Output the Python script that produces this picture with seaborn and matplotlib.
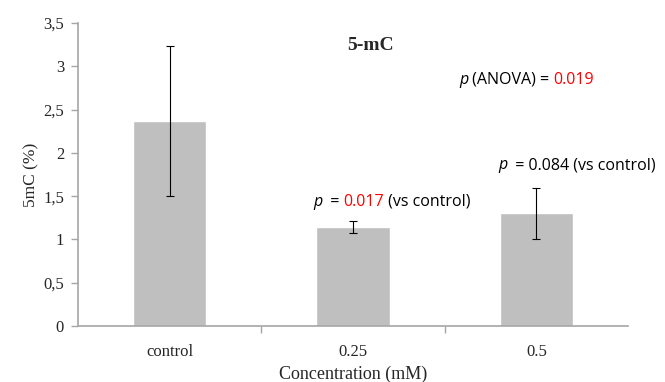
import seaborn as sns
import matplotlib.pyplot as plt
import pandas as pd

categories = ['control', '0.25', '0.5']
values = [2.37, 1.14, 1.30]
errors = [0.87, 0.07, 0.29]
y_ticks = [0, 0.5, 1, 1.5, 2, 2.5, 3, 3.5]
y_ticklabels = ['0', '0,5', '1', '1,5', '2', '2,5', '3', '3,5']

SERIF = 'Liberation Serif'
SANS = 'Open Sans'
GRAY = '#bfbfbf'
AXIS = '#a6a6a6'

sns.set_style('white')
plt.rcParams['font.family'] = [SERIF, 'DejaVu Serif']

df = pd.DataFrame({'conc': categories, 'val': values})

fig = plt.figure(figsize=(6.65, 3.82), dpi=100)
ax = fig.add_axes([78 / 665, 1 - 326 / 382, 550 / 665, 303 / 382])

sns.barplot(data=df, x='conc', y='val', color=GRAY, width=0.4, saturation=1,
            errorbar=None, ax=ax)
ax.errorbar(range(len(categories)), values, yerr=errors, fmt='none',
            ecolor='black', elinewidth=0.8, capsize=3, capthick=0.8)

ax.set_ylim(0, 3.5)
ax.set_xlim(-0.5, 2.5)
ax.set_yticks(y_ticks)
ax.set_yticklabels(y_ticklabels, fontsize=12)
ax.tick_params(axis='y', length=5, color=AXIS, width=1, direction='out', left=True, pad=5)
ax.tick_params(axis='x', length=0, labelsize=12, pad=13)
ax.set_xticks([0.5, 1.5], minor=True)
ax.tick_params(axis='x', which='minor', length=5, color=AXIS, width=1, bottom=True, direction='out')
ax.set_xlabel('Concentration (mM)', fontsize=13, labelpad=4)
ax.set_ylabel('5mC (%)', fontsize=12.5, labelpad=3)

for s in ['top', 'right']:
    ax.spines[s].set_visible(False)
for s in ['left', 'bottom']:
    ax.spines[s].set_color(AXIS)
    ax.spines[s].set_linewidth(1.2)

fig.text(370 / 665, 1 - 45 / 382, '5-mC', fontsize=14, fontweight='bold',
         family=SERIF, ha='center', va='center')


def colored_text(x, y, parts, size=11.5):
    # draw text segments one after another, each in its own colour
    renderer = fig.canvas.get_renderer()
    px = x
    for txt, col, style in parts:
        t = fig.text(px / 665, 1 - y / 382, txt, color=col, fontsize=size,
                     family=SANS, style=style, ha='left', va='center')
        bb = t.get_window_extent(renderer=renderer)
        px = bb.x1


colored_text(459, 80, [('p', 'black', 'italic'), (' (ANOVA) = ', 'black', 'normal'),
                       ('0.019', 'red', 'normal')])
colored_text(498, 165, [('p', 'black', 'italic'), ('  = 0.084 (vs control)', 'black', 'normal')])
colored_text(313, 202, [('p', 'black', 'italic'), ('  = ', 'black', 'normal'),
                        ('0.017', 'red', 'normal'), (' (vs control)', 'black', 'normal')])

fig.savefig('out.png', dpi=100)
